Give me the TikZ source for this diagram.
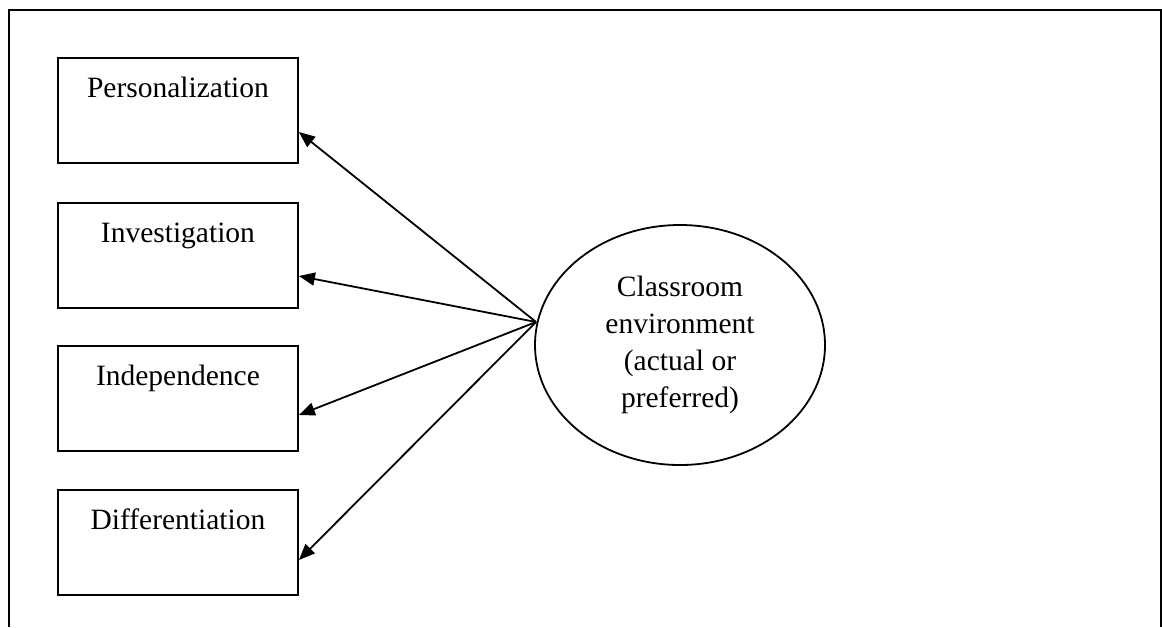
\documentclass[tikz,border=0pt]{standalone}
\usepackage{fontspec}
\setmainfont{Liberation Serif}
\usetikzlibrary{shapes.geometric,arrows.meta}
\begin{document}
\begin{tikzpicture}[x=1pt,y=-1pt,
  every node/.style={font=\fontsize{29.5}{37}\selectfont},
  factorbox/.style={draw,line width=1.9pt,minimum width=240pt,minimum height=105pt,inner sep=0pt,anchor=north west},
  boxlabel/.style={anchor=base,yshift=-40pt},
  linkarrow/.style={line width=1.8pt,-{Triangle[length=16pt,width=13pt]}}]
\useasboundingbox (0,0) rectangle (1162,627);
\draw[line width=2.4pt] (9,627) -- (9,10) -- (1161,10) -- (1161,627);
\node[factorbox,label={[boxlabel]north:Personalization}] (pers) at (57,57) {};
\node[factorbox,label={[boxlabel]north:Investigation}] (inv) at (57,202) {};
\node[factorbox,label={[boxlabel]north:Independence}] (ind) at (57,345) {};
\node[factorbox,label={[boxlabel]north:Differentiation}] (diff) at (57,489) {};
\node[draw,ellipse,line width=1.8pt,minimum width=290pt,minimum height=240pt,inner sep=0pt,align=center] (env) at (680,345) {Classroom\\environment\\(actual or\\preferred)};
\coordinate (src) at (536,322);
\draw[linkarrow] (src) -- (pers.east |- 0,132);
\draw[linkarrow] (src) -- (inv.east |- 0,276);
\draw[linkarrow] (src) -- (ind.east |- 0,415);
\draw[linkarrow] (src) -- (diff.east |- 0,560);
\end{tikzpicture}
\end{document}
